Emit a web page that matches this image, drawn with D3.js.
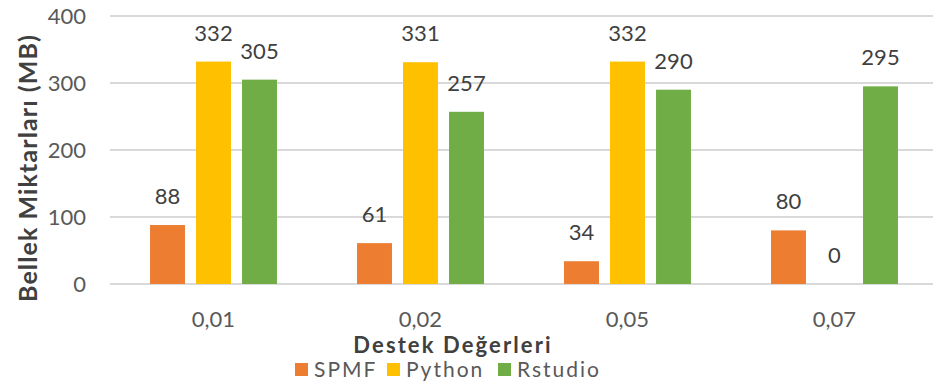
<!DOCTYPE html>
<html>
<head>
<meta charset="utf-8">
<script src="https://cdn.jsdelivr.net/npm/d3@7"></script>
<style>
  html, body { margin: 0; padding: 0; background: #ffffff; }
  svg { display: block; font-family: Lato, "Open Sans", sans-serif; }
</style>
</head>
<body>
<svg id="chart" width="933" height="385"></svg>
<script>
// Support values on the x axis
const categories = ["0,01", "0,02", "0,05", "0,07"];
// Memory usage per tool (MB)
const seriesNames = ["SPMF", "Python", "Rstudio"];
const spmfValues = [88, 61, 34, 80];
const pythonValues = [332, 331, 332, 0];
const rstudioValues = [305, 257, 290, 295];
const yTicks = [0, 100, 200, 300, 400];
const seriesColors = ["#ED7D31", "#FFC000", "#70AD47"];

const seriesValues = [spmfValues, pythonValues, rstudioValues];
const rows = categories.map((c, i) => ({
  category: c,
  values: seriesNames.map((s, j) => ({ key: s, value: seriesValues[j][i], color: seriesColors[j] }))
}));

const svg = d3.select("#chart");
const plot = { left: 110, right: 938, top: 16, bottom: 284 };

const x0 = d3.scaleBand()
  .domain(categories)
  .range([plot.left, plot.right])
  .paddingInner(1 / 3)
  .paddingOuter(1 / 6);

const x1 = d3.scaleBand()
  .domain(seriesNames)
  .range([0, x0.bandwidth()])
  .paddingInner(0.24)
  .paddingOuter(0.12);

const y = d3.scaleLinear().domain([0, 400]).range([plot.bottom, plot.top]);

// Horizontal gridlines
svg.append("g")
  .selectAll("line")
  .data(yTicks)
  .join("line")
  .attr("x1", plot.left)
  .attr("x2", plot.right)
  .attr("y1", d => y(d))
  .attr("y2", d => y(d))
  .attr("stroke", "#D9D9D9")
  .attr("stroke-width", 2);

// Y axis tick labels
const yAxis = d3.axisLeft(y).tickValues(yTicks).tickSize(0).tickPadding(0);
const gy = svg.append("g")
  .attr("transform", `translate(86,0)`)
  .call(yAxis);
gy.select(".domain").remove();
gy.selectAll("text")
  .attr("font-size", 22)
  .attr("font-family", "Lato, 'Open Sans', sans-serif")
  .attr("fill", "#595959");

// X axis category labels
const xAxis = d3.axisBottom(x0).tickSize(0).tickPadding(0);
const gx = svg.append("g")
  .attr("transform", `translate(0,${plot.bottom + 27})`)
  .call(xAxis);
gx.select(".domain").remove();
gx.selectAll("text")
  .attr("font-size", 22)
  .attr("font-family", "Lato, 'Open Sans', sans-serif")
  .attr("fill", "#595959");

// Bars
const groups = svg.append("g")
  .selectAll("g")
  .data(rows)
  .join("g")
  .attr("transform", d => `translate(${x0(d.category)},0)`);

groups.selectAll("rect")
  .data(d => d.values)
  .join("rect")
  .attr("x", d => x1(d.key))
  .attr("y", d => y(d.value))
  .attr("width", x1.bandwidth())
  .attr("height", d => y(0) - y(d.value))
  .attr("fill", d => d.color);

// Value labels above bars
groups.selectAll("text")
  .data(d => d.values)
  .join("text")
  .attr("x", d => x1(d.key) + x1.bandwidth() / 2)
  .attr("y", d => y(d.value) - 21)
  .attr("text-anchor", "middle")
  .attr("font-size", 22)
  .attr("fill", "#404040")
  .text(d => d.value);

// Axis titles
svg.append("text")
  .attr("transform", `translate(37,168) rotate(-90)`)
  .attr("text-anchor", "middle")
  .attr("font-size", 25)
  .attr("font-weight", "bold")
  .attr("letter-spacing", 1.1)
  .attr("fill", "#404040")
  .text("Bellek Miktarları (MB)");

svg.append("text")
  .attr("x", 453)
  .attr("y", 353)
  .attr("text-anchor", "middle")
  .attr("font-size", 22)
  .attr("font-weight", "bold")
  .attr("letter-spacing", 2.1)
  .attr("fill", "#404040")
  .text("Destek Değerleri");

// Legend
const legendX = [295, 387, 498];
const legend = svg.append("g")
  .selectAll("g")
  .data(seriesNames)
  .join("g")
  .attr("transform", (d, i) => `translate(${legendX[i]},363)`);

legend.append("rect")
  .attr("width", 13)
  .attr("height", 13)
  .attr("fill", (d, i) => seriesColors[i]);

legend.append("text")
  .attr("x", 19)
  .attr("y", 14)
  .attr("font-size", 21)
  .attr("letter-spacing", 2)
  .attr("fill", "#595959")
  .text(d => d);
</script>
</body>
</html>
